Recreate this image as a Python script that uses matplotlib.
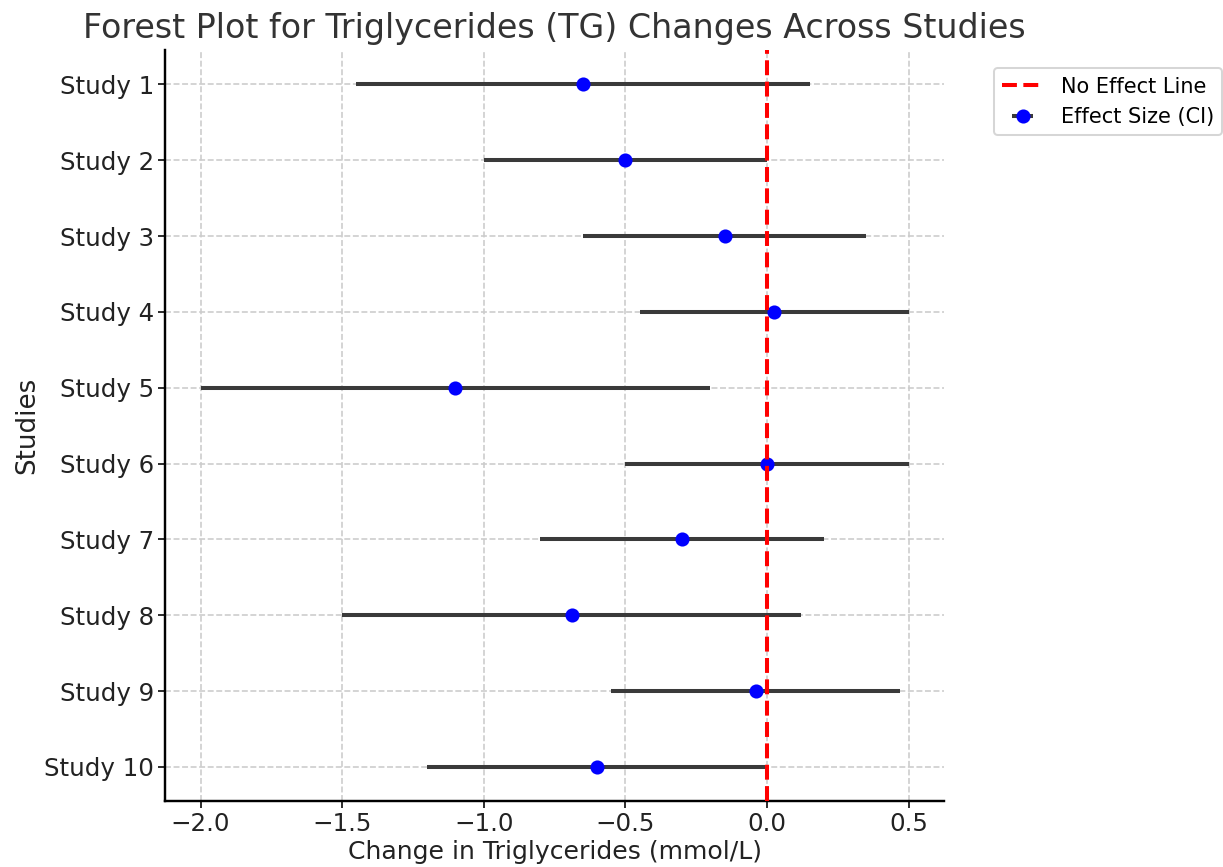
import numpy as np
import matplotlib
matplotlib.use('Agg')
import matplotlib.pyplot as plt

# Datos
studies = ['Study 1', 'Study 2', 'Study 3', 'Study 4', 'Study 5',
           'Study 6', 'Study 7', 'Study 8', 'Study 9', 'Study 10']
effect = [-0.65, -0.50, -0.15, 0.025, -1.10, 0.0, -0.30, -0.69, -0.04, -0.60]
ci_low = [-1.45, -1.00, -0.65, -0.45, -2.00, -0.50, -0.80, -1.50, -0.55, -1.20]
ci_high = [0.15, 0.00, 0.35, 0.50, -0.20, 0.50, 0.20, 0.12, 0.47, 0.00]

effect = np.array(effect)
err = [effect - np.array(ci_low), np.array(ci_high) - effect]
y = np.arange(len(studies))

fig = plt.figure(figsize=(1223 / 145, 867 / 145), dpi=145)
ax = fig.add_axes([0.135, 0.076, 0.637, 0.866])

ax.axvline(0, color='red', linestyle='--', linewidth=2, label='No Effect Line', zorder=4)
ax.errorbar(effect, y, xerr=err, fmt='o', color='blue', ecolor='#3a3a3a',
            elinewidth=2, markersize=6, capsize=0, label='Effect Size (CI)', zorder=3)

ax.set_yticks(y)
ax.set_yticklabels(studies, fontsize=12.2, color='#222222')
ax.invert_yaxis()
ax.tick_params(axis='x', labelsize=12.2, labelcolor='#222222', pad=2)
ax.tick_params(axis='y', pad=2)
ax.grid(True, linestyle='--', color='#cccccc', linewidth=0.8)
ax.set_axisbelow(True)
for s in ['top', 'right']:
    ax.spines[s].set_visible(False)
ax.spines['left'].set_linewidth(1.2)
ax.spines['bottom'].set_linewidth(1.2)

ax.set_xlabel('Change in Triglycerides (mmol/L)', fontsize=12.5, color='#222222', labelpad=2)
ax.set_ylabel('Studies', fontsize=13, color='#222222', labelpad=2)
ax.set_title('Forest Plot for Triglycerides (TG) Changes Across Studies',
             fontsize=16.5, color='#333333')

ax.legend(loc='upper left', bbox_to_anchor=(1.05, 0.99), fontsize=10.4)

fig.savefig('out.png', dpi=145)
